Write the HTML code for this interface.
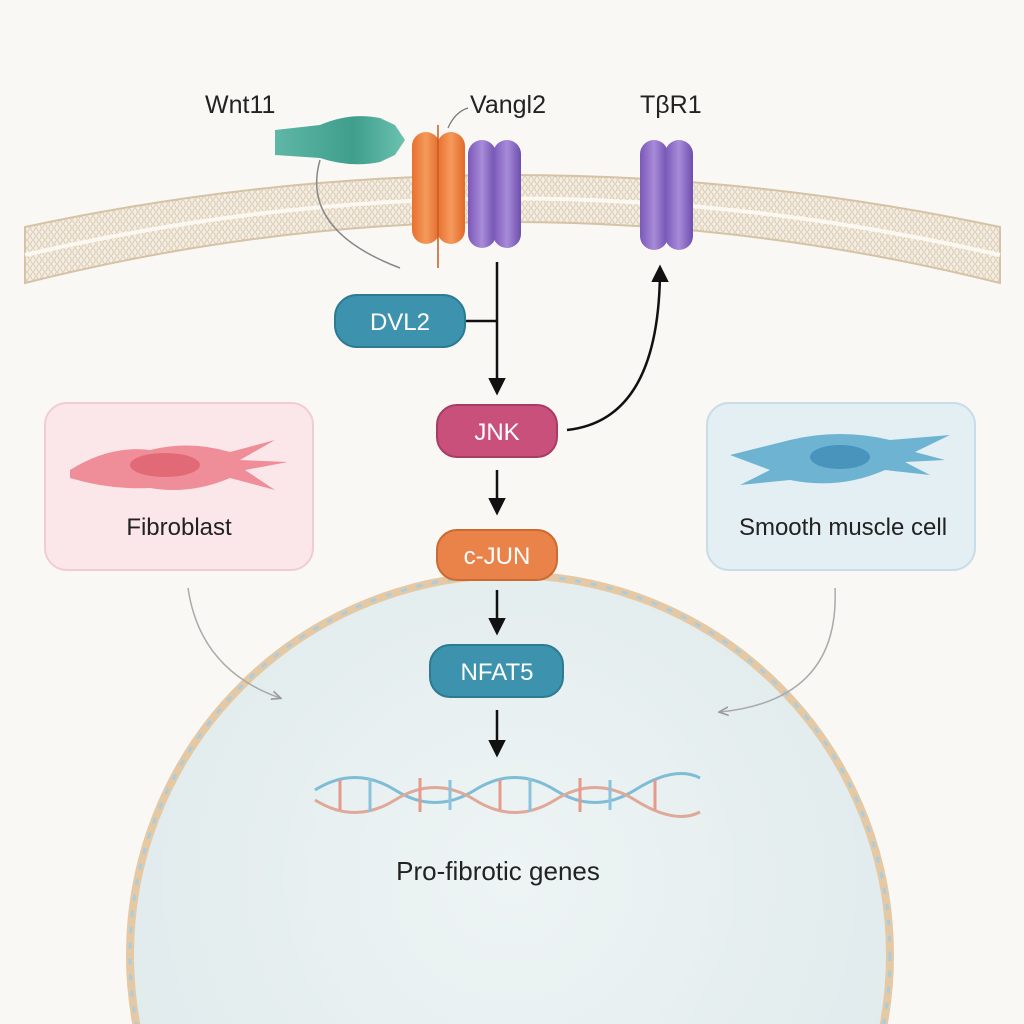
<!DOCTYPE html>
<html><head><meta charset="utf-8"><style>
html,body{margin:0;padding:0;background:#faf8f4;width:1024px;height:1024px;overflow:hidden;}
svg{display:block}
text{font-family:"Liberation Sans",sans-serif;}
</style></head><body>
<svg width="1024" height="1024" viewBox="0 0 1024 1024" xmlns="http://www.w3.org/2000/svg">
<defs>
<radialGradient id="nuc" cx="50%" cy="40%" r="60%"><stop offset="0" stop-color="#eef4f4"/><stop offset="1" stop-color="#dfeaec"/></radialGradient>
<pattern id="lip" width="6" height="8" patternUnits="userSpaceOnUse"><rect width="6" height="8" fill="#f3eee5"/><ellipse cx="3" cy="4" rx="2.2" ry="3.4" fill="none" stroke="#d8c3a4" stroke-width="0.8"/></pattern>
<linearGradient id="org" x1="0" x2="1"><stop offset="0" stop-color="#e8702e"/><stop offset="0.5" stop-color="#f59a5c"/><stop offset="1" stop-color="#e06a2a"/></linearGradient>
<linearGradient id="pur" x1="0" x2="1"><stop offset="0" stop-color="#7a58b8"/><stop offset="0.5" stop-color="#a88bd8"/><stop offset="1" stop-color="#6e4eae"/></linearGradient>
<linearGradient id="wnt" x1="0" x2="1"><stop offset="0" stop-color="#5fb7a6"/><stop offset="0.6" stop-color="#3f9e8c"/><stop offset="1" stop-color="#6cc2b0"/></linearGradient>
<marker id="ah" viewBox="0 0 10 10" refX="8" refY="5" markerWidth="7" markerHeight="7" orient="auto"><path d="M0,0 L10,5 L0,10 z" fill="#111"/></marker>
<marker id="ahg" viewBox="0 0 10 10" refX="8" refY="5" markerWidth="7" markerHeight="7" orient="auto"><path d="M0,1 L9,5 L0,9" fill="none" stroke="#999" stroke-width="1.5"/></marker>
</defs>
<rect width="1024" height="1024" fill="#faf8f4"/>
<!-- nucleus -->
<circle cx="510" cy="955" r="380" fill="url(#nuc)" stroke="#e5c9a4" stroke-width="8"/>
<circle cx="510" cy="955" r="380" fill="none" stroke="#a8cde0" stroke-width="3" stroke-dasharray="6 10"/>
<!-- membrane -->
<path d="M25,227 Q510,123 1000,227 L1000,283 Q510,161 25,283 Z" fill="url(#lip)" stroke="#d6c3a6" stroke-width="2"/>
<path d="M25,255 Q510,142 1000,255" fill="none" stroke="#fbf8f2" stroke-width="4"/>
<!-- Wnt11 ligand -->
<path d="M275,130 L320,125 Q350,112 380,118 L395,125 L405,140 L395,155 L380,162 Q350,168 320,158 L275,155 Z" fill="url(#wnt)"/>
<path d="M320,160 Q300,230 400,268" fill="none" stroke="#888" stroke-width="1.5"/>
<!-- receptors -->
<rect x="412" y="132" width="28" height="112" rx="14" fill="url(#org)"/>
<rect x="437" y="132" width="28" height="112" rx="14" fill="url(#org)"/>
<line x1="438" y1="125" x2="438" y2="268" stroke="#c85a20" stroke-width="1.5"/>
<rect x="468" y="140" width="28" height="108" rx="14" fill="url(#pur)"/>
<rect x="493" y="140" width="28" height="108" rx="14" fill="url(#pur)"/>
<rect x="640" y="140" width="28" height="110" rx="14" fill="url(#pur)"/>
<rect x="665" y="140" width="28" height="110" rx="14" fill="url(#pur)"/>
<path d="M448,128 Q455,112 468,108" fill="none" stroke="#777" stroke-width="1.2"/>
<!-- labels -->
<text x="205" y="113" font-size="25" fill="#222">Wnt11</text>
<text x="470" y="113" font-size="25" fill="#222">Vangl2</text>
<text x="640" y="113" font-size="25" fill="#222">TβR1</text>
<!-- side boxes -->
<rect x="45" y="403" width="268" height="167" rx="22" fill="#fbe7ea" stroke="#f1cdd2" stroke-width="2"/>
<path d="M70,470 Q110,445 150,450 Q190,440 230,452 L275,440 L240,460 L288,462 L245,470 L275,490 L230,478 Q190,495 150,488 Q110,490 70,478 Z" fill="#ef8e98"/>
<ellipse cx="165" cy="465" rx="35" ry="12" fill="#d9525f" opacity="0.6"/>
<text x="179" y="535" font-size="24" fill="#222" text-anchor="middle">Fibroblast</text>
<rect x="707" y="403" width="268" height="167" rx="22" fill="#e4eff4" stroke="#c8dde7" stroke-width="2"/>
<path d="M730,455 L790,440 Q840,428 890,440 L950,435 L915,452 L945,460 L905,462 L930,475 L885,470 Q840,490 790,480 L740,485 L770,470 Z" fill="#6eb4d2"/>
<ellipse cx="840" cy="457" rx="30" ry="12" fill="#2e7fae" opacity="0.6"/>
<text x="843" y="535" font-size="24" fill="#222" text-anchor="middle">Smooth muscle cell</text>
<!-- grey arrows -->
<path d="M188,588 Q200,670 280,698" fill="none" stroke="#aaa" stroke-width="1.5" marker-end="url(#ahg)"/>
<path d="M835,588 Q840,700 720,712" fill="none" stroke="#aaa" stroke-width="1.5" marker-end="url(#ahg)"/>
<!-- pathway -->
<line x1="497" y1="262" x2="497" y2="392" stroke="#111" stroke-width="2.5" marker-end="url(#ah)"/>
<line x1="465" y1="321" x2="497" y2="321" stroke="#111" stroke-width="2.5"/>
<path d="M567,430 Q660,420 660,268" fill="none" stroke="#111" stroke-width="2.5" marker-end="url(#ah)"/>
<line x1="497" y1="470" x2="497" y2="512" stroke="#111" stroke-width="2.5" marker-end="url(#ah)"/>
<line x1="497" y1="590" x2="497" y2="632" stroke="#111" stroke-width="2.5" marker-end="url(#ah)"/>
<line x1="497" y1="710" x2="497" y2="754" stroke="#111" stroke-width="2.5" marker-end="url(#ah)"/>
<rect x="335" y="295" width="130" height="52" rx="22" fill="#3d93ad" stroke="#2d7a92" stroke-width="2"/>
<text x="400" y="330" font-size="24" fill="#fff" text-anchor="middle">DVL2</text>
<rect x="437" y="405" width="120" height="52" rx="20" fill="#c9507b" stroke="#a83d63" stroke-width="2"/>
<text x="497" y="440" font-size="24" fill="#fff" text-anchor="middle">JNK</text>
<rect x="437" y="530" width="120" height="50" rx="20" fill="#e9834a" stroke="#cc6a32" stroke-width="2"/>
<text x="497" y="564" font-size="24" fill="#fff" text-anchor="middle">c-JUN</text>
<rect x="430" y="645" width="133" height="52" rx="20" fill="#3d93ad" stroke="#2d7a92" stroke-width="2"/>
<text x="497" y="680" font-size="24" fill="#fff" text-anchor="middle">NFAT5</text>
<!-- DNA -->
<g fill="none" stroke-width="3">
<path d="M315,790 Q355,765 395,790 T475,790 T555,790 T635,790 T700,778" stroke="#7fbcd6"/>
<path d="M315,800 Q355,825 395,800 T475,800 T555,800 T635,800 T700,812" stroke="#e0a898"/>
</g>
<g stroke-width="3">
<line x1="340" y1="780" x2="340" y2="810" stroke="#e59a8a"/><line x1="370" y1="778" x2="370" y2="812" stroke="#8cc3dc"/>
<line x1="420" y1="778" x2="420" y2="812" stroke="#e59a8a"/><line x1="450" y1="780" x2="450" y2="810" stroke="#8cc3dc"/>
<line x1="500" y1="780" x2="500" y2="810" stroke="#e59a8a"/><line x1="530" y1="778" x2="530" y2="812" stroke="#8cc3dc"/>
<line x1="580" y1="778" x2="580" y2="812" stroke="#e59a8a"/><line x1="610" y1="780" x2="610" y2="810" stroke="#8cc3dc"/>
<line x1="655" y1="780" x2="655" y2="810" stroke="#e59a8a"/>
</g>
<text x="498" y="880" font-size="26" fill="#222" text-anchor="middle">Pro-fibrotic genes</text>
</svg>
</body></html>
